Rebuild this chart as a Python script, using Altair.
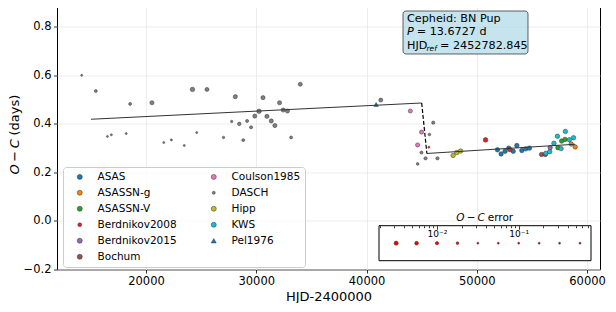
import altair as alt
import pandas as pd

# ---------------- data ----------------
asas_hjd = [51870, 52200, 52560, 52890, 53300, 53630, 54080, 54440, 54770]
asas_oc = [0.293, 0.276, 0.287, 0.300, 0.287, 0.311, 0.290, 0.297, 0.300]
asas_err = [0.002, 0.002, 0.002, 0.002, 0.002, 0.002, 0.002, 0.002, 0.002]

asassng_hjd = [58560, 58920]
asassng_oc = [0.317, 0.305]
asassng_err = [0.002, 0.002]

asassnv_hjd = [57350, 57690, 58000]
asassnv_oc = [0.302, 0.329, 0.336]
asassnv_err = [0.002, 0.002, 0.002]

berd08_hjd = [45650, 50790, 53000]
berd08_oc = [0.304, 0.334, 0.294]
berd08_err = [0.03, 0.0015, 0.002]

berd15_hjd = [56650]
berd15_oc = [0.302]
berd15_err = [0.002]

bochum_hjd = [55870, 56210]
bochum_oc = [0.274, 0.274]
bochum_err = [0.002, 0.002]

coulson_hjd = [43970, 44990, 44630]
coulson_oc = [0.453, 0.366, 0.313]
coulson_err = [0.003, 0.003, 0.003]

dasch_hjd = [14170, 15450, 18560, 20540, 24215, 25530, 28100, 30610, 32110, 33990,
             30250, 29865, 30970, 31360, 31690, 32440, 32830, 28460, 29170, 29530,
             27770, 28820, 33160, 27030, 24600, 23470, 22300, 21610, 18210, 16860,
             16500, 41290, 46050, 45700, 44980, 45350, 46430, 44630]
dasch_oc = [0.600, 0.535, 0.482, 0.487, 0.542, 0.542, 0.512, 0.508, 0.487, 0.563,
            0.452, 0.432, 0.431, 0.412, 0.393, 0.457, 0.453, 0.400, 0.412, 0.386,
            0.410, 0.333, 0.344, 0.344, 0.364, 0.311, 0.334, 0.323, 0.360, 0.355,
            0.348, 0.498, 0.405, 0.356, 0.282, 0.258, 0.258, 0.235]
dasch_err = [0.031, 0.014, 0.014, 0.0032, 0.0021, 0.0041, 0.0032, 0.0032, 0.0032, 0.0041,
             0.0021, 0.0032, 0.0032, 0.0032, 0.0032, 0.0032, 0.0032, 0.0071, 0.012, 0.012,
             0.023, 0.014, 0.014, 0.023, 0.031, 0.031, 0.031, 0.031, 0.031, 0.031,
             0.031, 0.0041, 0.010, 0.019, 0.012, 0.010, 0.010, 0.019]

hipp_hjd = [47850, 48190, 48530]
hipp_oc = [0.270, 0.282, 0.288]
hipp_err = [0.002, 0.002, 0.002]

kws_hjd = [56260, 56610, 56990, 57310, 58030, 57640, 58390, 58770]
kws_oc = [0.279, 0.285, 0.320, 0.349, 0.369, 0.298, 0.335, 0.343]
kws_err = [0.002, 0.002, 0.002, 0.002, 0.002, 0.002, 0.002, 0.002]

pel_hjd = [40870]
pel_oc = [0.480]
pel_err = [0.002]

# piecewise linear fit
fit_seg = ["a", "a", "b", "b"]
fit_hjd = [15010, 45000, 45470, 58920]
fit_oc = [0.419, 0.486, 0.278, 0.316]
jump_hjd = [45000, 45470]
jump_oc = [0.486, 0.278]

# O-C error key
key_err = [0.00316, 0.00562, 0.01, 0.0178, 0.0316, 0.0562, 0.1, 0.178, 0.316, 0.562]
key_lo, key_hi = 0.00195, 0.767
key_ticks = [0.002, 0.003, 0.004, 0.005, 0.006, 0.007, 0.008, 0.009, 0.01,
             0.02, 0.03, 0.04, 0.05, 0.06, 0.07, 0.08, 0.09, 0.1,
             0.2, 0.3, 0.4, 0.5, 0.6, 0.7]

x_ticks = [20000, 30000, 40000, 50000, 60000]
y_ticks = [-0.2, 0.0, 0.2, 0.4, 0.6, 0.8]

sources = ["ASAS", "ASASSN-g", "ASASSN-V", "Berdnikov2008", "Berdnikov2015", "Bochum",
           "Coulson1985", "DASCH", "Hipp", "KWS", "Pel1976"]
colors = ["#1f77b4", "#ff7f0e", "#2ca02c", "#d62728", "#9467bd", "#8c564b",
          "#e377c2", "#7f7f7f", "#bcbd22", "#17becf", "#1f77b4"]
shapes = ["circle", "circle", "circle", "circle", "circle", "circle",
          "circle", "circle", "circle", "circle", "triangle-up"]

title_lines = ["Cepheid: BN Pup"]
period_text = ["P", "= 13.6727 d"]
hjd_text = ["HJD", "ref", "= 2452782.845"]
ylabel_parts = ["O\u2009\u2212\u2009C", "(days)"]
key_title = ["O\u2009\u2212\u2009C", "error"]

# ---------------- build tables ----------------
series = [
    ("ASAS", asas_hjd, asas_oc, asas_err),
    ("ASASSN-g", asassng_hjd, asassng_oc, asassng_err),
    ("ASASSN-V", asassnv_hjd, asassnv_oc, asassnv_err),
    ("Berdnikov2008", berd08_hjd, berd08_oc, berd08_err),
    ("Berdnikov2015", berd15_hjd, berd15_oc, berd15_err),
    ("Bochum", bochum_hjd, bochum_oc, bochum_err),
    ("Coulson1985", coulson_hjd, coulson_oc, coulson_err),
    ("DASCH", dasch_hjd, dasch_oc, dasch_err),
    ("Hipp", hipp_hjd, hipp_oc, hipp_err),
    ("KWS", kws_hjd, kws_oc, kws_err),
    ("Pel1976", pel_hjd, pel_oc, pel_err),
]
rows = []
for name, hs, os_, es in series:
    for h, o, e in zip(hs, os_, es):
        rows.append({"source": name, "hjd": h, "oc": o, "err": e})
df = pd.DataFrame(rows)

fit_df = pd.DataFrame({"seg": fit_seg, "hjd": fit_hjd, "oc": fit_oc})
jump_df = pd.DataFrame({"hjd": jump_hjd, "oc": jump_oc})
key_df = pd.DataFrame({"err": key_err, "ypos": [0.5] * len(key_err)})
box_df = pd.DataFrame({"lo": [key_lo], "hi": [key_hi], "b": [0], "t": [1]})

FONT = "DejaVu Sans"
W, H = 543, 267

xscale = alt.Scale(domain=[11930, 61170], nice=False, zero=False)
yscale = alt.Scale(domain=[-0.2, 0.9], nice=False, zero=False)
size_scale = alt.Scale(type="log", domain=[0.001, 0.0316], range=[24, 4], clamp=True)

x_axis = alt.Axis(values=x_ticks, format="d", title="HJD-2400000", grid=True,
                  gridColor="#e8e8e8", gridWidth=0.8, domain=False,
                  tickSize=3.5, tickColor="black", tickWidth=0.8,
                  labelFontSize=11.5, labelFont=FONT, labelColor="black", labelPadding=2.5,
                  titleFontSize=13, titleFont=FONT, titleColor="black",
                  titleFontWeight="normal", titlePadding=3)
y_axis = alt.Axis(values=y_ticks, format=".1f", title=None, grid=True,
                  gridColor="#e8e8e8", gridWidth=0.8, domain=False,
                  tickSize=3.5, tickColor="black", tickWidth=0.8,
                  labelFontSize=11.5, labelFont=FONT, labelColor="black", labelPadding=2.5)

leg = alt.Legend(title=None, orient="none", legendX=6, legendY=164.5, columns=2,
                 fillColor="rgba(255,255,255,0.8)", strokeColor="#cccccc", cornerRadius=3,
                 padding=4.5, labelFontSize=10.5, labelFont=FONT, labelColor="black",
                 symbolSize=alt.ExprRef("datum.value === 'DASCH' ? 9 : (datum.value === 'Berdnikov2008' ? 15 : 25)"),
                 symbolOffset=7, labelOffset=12.5, columnPadding=24,
                 rowPadding=5, symbolStrokeWidth=0.5, symbolStrokeColor="#333333")

points = alt.Chart(df).mark_point(filled=True, opacity=1, stroke="#333333", strokeWidth=0.5).encode(
    x=alt.X("hjd:Q", scale=xscale, axis=x_axis),
    y=alt.Y("oc:Q", scale=yscale, axis=y_axis),
    color=alt.Color("source:N", scale=alt.Scale(domain=sources, range=colors), legend=leg),
    shape=alt.Shape("source:N", scale=alt.Scale(domain=sources, range=shapes), legend=leg),
    size=alt.Size("err:Q", scale=size_scale, legend=None),
)

fit_line = alt.Chart(fit_df).mark_line(color="#333333", strokeWidth=1).encode(
    x=alt.X("hjd:Q", scale=xscale, axis=x_axis),
    y=alt.Y("oc:Q", scale=yscale, axis=y_axis),
    detail="seg:N",
)
jump_line = alt.Chart(jump_df).mark_line(color="black", strokeWidth=1.2, strokeDash=[4, 2]).encode(
    x=alt.X("hjd:Q", scale=xscale, axis=x_axis),
    y=alt.Y("oc:Q", scale=yscale, axis=y_axis),
)


def label(txt, x, y, size, style="normal", angle=0, align="left"):
    return alt.Chart(pd.DataFrame({"t": [txt]})).mark_text(
        align=align, baseline="middle", fontSize=size, fontStyle=style, font=FONT,
        color="black", angle=angle).encode(text="t:N", x=alt.value(x), y=alt.value(y))


BX = 346  # left edge of the annotation box (plot coords)
AF = 11.2
ann_box = alt.Chart(pd.DataFrame({"a": [0]})).mark_rect(
    fill="#add8e6", fillOpacity=0.7, stroke="black", strokeOpacity=0.6, strokeWidth=1,
    cornerRadius=3).encode(x=alt.value(BX), x2=alt.value(BX + 125), y=alt.value(8.5), y2=alt.value(51.5))

KX0, KX1 = W - 9 - 212, W - 9  # O-C error key placement
KC = (KX0 + KX1) / 2

ann = [
    ann_box,
    label(title_lines[0], BX + 4, 16.5, AF),
    label(period_text[0], BX + 4, 29.5, AF, "italic"),
    label(period_text[1], BX + 13.7, 29.5, AF),
    label(hjd_text[0], BX + 4, 43, AF),
    label(hjd_text[1], BX + 23.5, 46, 7.5, "italic"),
    label(hjd_text[2], BX + 37, 43, AF),
    label(ylabel_parts[0], -42, 172, 13, "italic", angle=270),
    label(ylabel_parts[1], -42, 133, 13, angle=270),
    label(key_title[0], KC - 28.7, 215.2, 10.5, "italic"),
    label(key_title[1], KC + 2.7, 215.2, 10.5),
]

main = alt.layer(points, fit_line, jump_line, *ann)

# ---------------- O-C error key (inset) ----------------
inset_x = alt.Scale(type="log", domain=[key_lo, key_hi], range=[KX0, KX1], nice=False)
inset_y = alt.Scale(domain=[0, 1], range=[258.2, 223.2], nice=False, zero=False)
inset_axis = alt.Axis(orient="bottom", offset=223.2 - H, values=key_ticks,
                      labelExpr="datum.value == 0.01 ? '10\u207b\u00b2' : (datum.value == 0.1 ? '10\u207b\u00b9' : '')",
                      tickSize={"condition": {"test": "datum.value == 0.01 || datum.value == 0.1", "value": 3.5},
                                "value": 2},
                      tickColor="black", tickWidth=0.8, domain=False, grid=False, title=None,
                      labelFontSize=9, labelFont=FONT, labelColor="black", labelPadding=0,
                      labelFlush=False, labelOverlap=False, zindex=1)

key_box = alt.Chart(box_df).mark_rect(fill="white", stroke="black", strokeWidth=1).encode(
    x=alt.X("lo:Q", scale=inset_x, axis=inset_axis), x2="hi:Q",
    y=alt.Y("b:Q", scale=inset_y, axis=None), y2="t:Q",
)
key_dots = alt.Chart(key_df).mark_circle(color="red", opacity=1, stroke="#333333", strokeWidth=0.5).encode(
    x=alt.X("err:Q", scale=inset_x, axis=inset_axis),
    y=alt.Y("ypos:Q", scale=inset_y, axis=None),
    size=alt.Size("err:Q", scale=size_scale, legend=None),
)
inset = alt.layer(key_box, key_dots)

chart = alt.layer(main, inset).resolve_scale(x="independent", y="independent").properties(
    width=W, height=H,
    autosize=alt.AutoSizeParams(type="none"),
    padding={"left": 49, "top": -5.5, "right": 8, "bottom": 33},
).configure(font=FONT).configure_view(stroke="black", strokeWidth=1)

chart.save("out.html", embed_options={"renderer": "svg", "actions": False})
